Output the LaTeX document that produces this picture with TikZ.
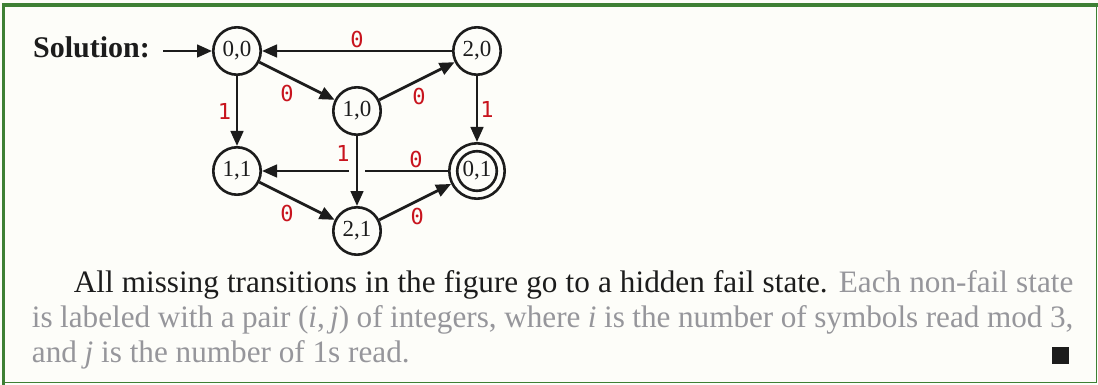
\documentclass[tikz,border=0pt]{standalone}
\usepackage{fontspec}
\setmainfont{Liberation Serif}
\newfontfamily\monofont{DejaVu Sans Mono}
\usetikzlibrary{arrows.meta}
\definecolor{bgc}{RGB}{253,253,249}
\definecolor{framegreen}{RGB}{62,128,52}
\definecolor{lblred}{RGB}{200,20,30}
\definecolor{ink}{RGB}{28,28,28}
\definecolor{graytext}{RGB}{150,150,155}
\begin{document}
\begin{tikzpicture}[x=0.5pt,y=-0.5pt,
  state/.style={circle,draw=ink,line width=1.3pt,fill=bgc,minimum size=23.7pt,inner sep=0pt,
    text=ink,font=\fontsize{11.5}{13}\selectfont},
  accstate/.style={state,minimum size=27.7pt},
  edge/.style={draw=ink,line width=1.35pt,-{Triangle[length=7.5pt,width=6.3pt]}},
  lbl/.style={text=lblred,font=\monofont\fontsize{11}{12}\selectfont,inner sep=0pt},
  bodytext/.style={anchor=base west,inner sep=0pt,font=\fontsize{15.6}{18}\selectfont}]
\useasboundingbox (0,0) rectangle (1098,385);
\fill[bgc] (0,0) rectangle (1098,385);
\draw[framegreen,line width=1.65pt] (3.2,385) -- (3.2,5) -- (1098,5);
\draw[framegreen,line width=0.75pt] (1096.5,5) -- (1096.5,382.5) -- (3.2,382.5);

% title
\node[bodytext,font=\bfseries\fontsize{15}{18}\selectfont,text=ink] (sol) at (32.7,57.3) {Solution:};

% states
\node[state] (s00) at (237,51) {0,0};
\node[state] (s20) at (477,51) {2,0};
\node[state] (s10) at (357,111) {1,0};
\node[state] (s11) at (237,171) {1,1};
\node[accstate] (s01) at (477,171) {0,1};
\node[state] (s21) at (357,231) {2,1};
\draw[ink,line width=1.3pt] (s01.center) circle[radius=9.9pt];

\coordinate (start) at (163,51);
\draw[edge] (start) -- (s00);

\draw[edge] (s20) -- (s00) node[lbl,pos=0.5,yshift=6pt] {0};
\draw[edge] (s00) -- (s10) node[lbl,pos=0.5,xshift=-5pt,yshift=-6.3pt] {0};
\draw[edge] (s10) -- (s20) node[lbl,pos=0.5,xshift=1pt,yshift=-7.5pt] {0};
\draw[edge] (s00) -- (s11) node[lbl,pos=0.5,xshift=-6.3pt] {1};
\draw[edge] (s20) -- (s01) node[lbl,pos=0.5,xshift=5pt] {1};
\draw[edge] (s01) -- (s11) node[lbl,pos=0.5,xshift=30.5pt,yshift=6pt] {0};
\draw[edge,preaction={draw=bgc,line width=8pt,shorten <=10pt,shorten >=10pt,arrows=-}]
  (s10) -- (s21) node[lbl,pos=0.5,xshift=-7pt,yshift=9pt] {1};
\draw[edge] (s11) -- (s21) node[lbl,pos=0.5,xshift=-5pt,yshift=-6pt] {0};
\draw[edge] (s21) -- (s01) node[lbl,pos=0.5,xshift=1pt,yshift=-7.5pt] {0};

% text
\node[bodytext] (t1) at (73.5,292) {\makebox[499.75pt][s]{\color{ink}All missing transitions in the figure go to a hidden fail state. \color{graytext}Each non-fail state}};
\node[bodytext,text=graytext] (t2) at (31.5,327) {\makebox[520.75pt][s]{is labeled with a pair (\textit{i},\,\textit{j}) of integers, where \textit{i} is the number of symbols read mod 3,}};
\node[bodytext,text=graytext] (t3) at (31.5,362) {and \textit{j} is the number of 1s read.};
\fill[ink] (1052,347) rectangle (1069,364);
\end{tikzpicture}
\end{document}
